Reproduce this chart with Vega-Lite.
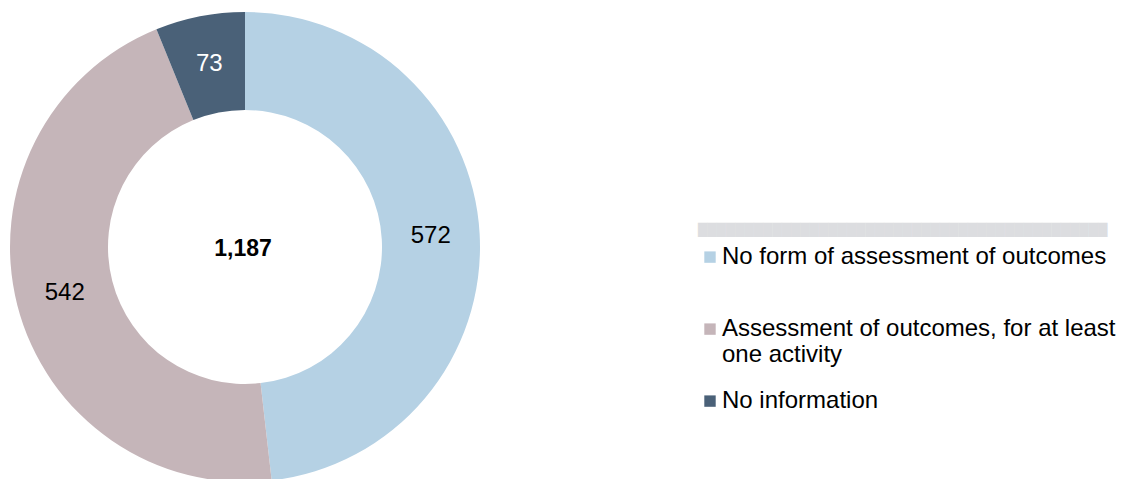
{
  "$schema": "https://vega.github.io/schema/vega-lite/v6.json",
  "width": 490,
  "height": 494,
  "autosize": "none",
  "padding": {"left": 0, "top": 0, "right": 635, "bottom": 0},
  "background": "white",
  "config": {"view": {"stroke": null}},
  "data": {
    "values": [
      {"cat": "No form of assessment of outcomes", "n": 572, "ord": 1},
      {"cat": "Assessment of outcomes, for at least one activity", "n": 542, "ord": 2},
      {"cat": "No information", "n": 73, "ord": 3}
    ]
  },
  "layer": [
    {
      "mark": {"type": "arc", "outerRadius": 235, "innerRadius": 137},
      "encoding": {
        "theta": {"field": "n", "type": "quantitative", "stack": true},
        "order": {"field": "ord", "type": "quantitative"},
        "color": {
          "field": "cat",
          "type": "nominal",
          "scale": {
            "domain": ["No form of assessment of outcomes", "Assessment of outcomes, for at least one activity", "No information"],
            "range": ["#b5d1e4", "#c5b5b9", "#4a6178"]
          },
          "legend": {
            "orient": "none",
            "legendX": 698,
            "legendY": 224,
            "padding": 0,
            "title": "████████████████████████████████████████████",
            "titleColor": "#dcdde0",
            "titleFont": "DejaVu Sans",
            "titleFontSize": 12.1,
            "titleFontWeight": "normal",
            "titlePadding": 9,
            "titleLimit": 1000,
            "symbolType": "square",
            "symbolSize": 130,
            "symbolStrokeWidth": 0,
            "symbolOffset": 0,
            "labelOffset": 0,
            "labelFont": "Liberation Sans",
            "labelFontSize": 24,
            "labelColor": "#000000",
            "labelLimit": 500,
            "rowPadding": 22,
            "labelExpr": "datum.label == 'Assessment of outcomes, for at least one activity' ? ['Assessment of outcomes, for at least', 'one activity'] : datum.label == 'No form of assessment of outcomes' ? ['No form of assessment of outcomes', ' '] : datum.label"
          }
        }
      }
    },
    {
      "mark": {"type": "text", "radius": 186, "font": "Liberation Sans", "fontSize": 24},
      "encoding": {
        "theta": {"field": "n", "type": "quantitative", "stack": true},
        "order": {"field": "ord", "type": "quantitative"},
        "text": {"field": "n", "type": "quantitative"},
        "fill": {
          "condition": {"test": "datum.cat == 'No information'", "value": "#ffffff"},
          "value": "#000000"
        }
      }
    },
    {
      "data": {"values": [{"total": "1,187"}]},
      "mark": {"type": "text", "font": "Liberation Sans", "fontSize": 23, "fontWeight": "bold", "color": "#000000", "dx": -2, "dy": 2},
      "encoding": {
        "text": {"field": "total", "type": "nominal"}
      }
    }
  ]
}
